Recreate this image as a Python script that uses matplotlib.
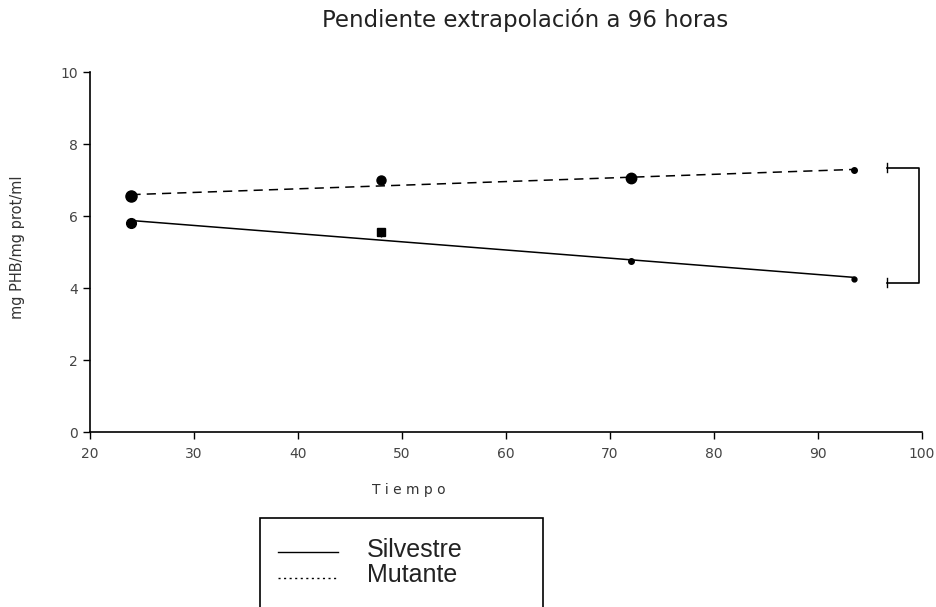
import matplotlib
matplotlib.use("Agg")
import matplotlib.pyplot as plt
from matplotlib.patches import Rectangle
from matplotlib.lines import Line2D

plt.rcParams['font.family'] = ['DejaVu Sans']

# datos
tiempo = [24, 48, 72, 93.5]
silvestre = [5.8, 5.55, 4.75, 4.25]
mutante = [6.55, 7.0, 7.05, 7.28]
# rectas de ajuste (extremos)
t_ajuste = [24, 93.5]
silv_ajuste = [5.88, 4.3]
mut_ajuste = [6.6, 7.3]
# corchete a la derecha
corchete_y = [7.35, 4.15]

fig = plt.figure(figsize=(9.36, 6.07), dpi=100)
ax = fig.add_axes([0.096, 0.288, 0.889, 0.593])

ax.plot(t_ajuste, silv_ajuste, color="black", lw=1.1, ls="-")
ax.plot(t_ajuste, mut_ajuste, color="black", lw=1.1, ls=(0, (6, 4)))

tam = [7, 5, 4, 3.5]
tam_m = [8, 6.5, 7.5, 4]
for i, t in enumerate(tiempo):
    mk = "s" if i == 1 else "o"
    ax.plot(t, silvestre[i], marker=mk, color="black", ms=tam[i] if i != 1 else 6, ls="none")
    ax.plot(t, mutante[i], marker="o", color="black", ms=tam_m[i], ls="none")
# pequeña barra de error en 48 h
ax.errorbar([48], [silvestre[1]], yerr=[[0.12], [0]], fmt="none", ecolor="black", lw=1)

# corchete
ax.plot([96.6, 96.6], [corchete_y[0] - 0.12, corchete_y[0] + 0.12], color="black", lw=1, clip_on=False)
ax.plot([96.6, 96.6], [corchete_y[1] - 0.12, corchete_y[1] + 0.12], color="black", lw=1, clip_on=False)
ax.plot([96.6, 99.7, 99.7, 96.6], [corchete_y[0], corchete_y[0], corchete_y[1], corchete_y[1]],
        color="black", lw=1.2, clip_on=False)

ax.set_xlim(20, 100)
ax.set_ylim(0, 10)
ax.set_xticks(range(20, 101, 10))
ax.set_yticks(range(0, 11, 2))
ax.spines["top"].set_visible(False)
ax.spines["right"].set_visible(False)
ax.tick_params(direction="out", length=5, width=1, labelsize=10, colors="black", labelcolor="#444444")
ax.tick_params(axis="x", pad=6)
ax.spines["left"].set_linewidth(1.2)
ax.spines["bottom"].set_linewidth(1.2)

fig.text(0.561, 0.9555, "Pendiente extrapolación a 96 horas", ha="center", va="baseline",
         fontsize=16.5, color="#222222")
fig.text(0.437, 0.193, "T i e m p o", ha="center", va="center", fontsize=10, color="#333333")
fig.text(0.019, 0.593, "mg PHB/mg prot/ml", ha="center", va="center", fontsize=10.5, rotation=90,
         color="#333333")

# leyenda dibujada a mano
fig.patches.append(Rectangle((0.278, -0.05), 0.302, 0.196, transform=fig.transFigure,
                             fill=False, edgecolor="black", lw=1.2))
fig.lines.append(Line2D([0.297, 0.361], [0.0906, 0.0906], transform=fig.transFigure, color="black", lw=1))
fig.lines.append(Line2D([0.297, 0.361], [0.0478, 0.0478], transform=fig.transFigure, color="black", lw=1,
                        ls=(0, (1.5, 2.5))))
fig.text(0.392, 0.0824, "Silvestre", ha="left", va="baseline", fontsize=18,
         family="Liberation Sans", color="#222222")
fig.text(0.392, 0.0412, "Mutante", ha="left", va="baseline", fontsize=18,
         family="Liberation Sans", color="#222222")

fig.savefig("out.png", dpi=100)
